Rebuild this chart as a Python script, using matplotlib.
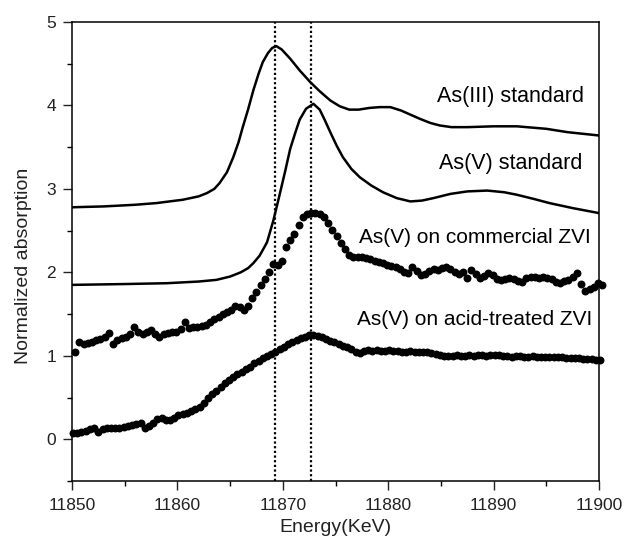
import numpy as np
import matplotlib
matplotlib.use("Agg")
import matplotlib.pyplot as plt
from matplotlib.ticker import MultipleLocator

plt.rcParams['font.family'] = ['Liberation Sans', 'DejaVu Sans']

# As(III) standard spectrum (solid line)
e_as3 = [11850, 11853, 11856, 11858, 11860.5, 11862, 11862.8, 11863.5, 11864,
         11864.7, 11865.3, 11865.8, 11866.2, 11866.7, 11867.2, 11867.7, 11868.1,
         11868.6, 11869.0, 11869.4, 11869.9, 11870.7, 11871.6, 11872.6, 11873.5,
         11874.5, 11875.4, 11876.3, 11877.2, 11878.2, 11879.2, 11880.2, 11881.2,
         11882.1, 11883.0, 11884.0, 11884.9, 11886, 11887.5, 11890, 11892.2,
         11895, 11897, 11900]
mu_as3 = [2.78, 2.79, 2.81, 2.83, 2.87, 2.91, 2.95, 3.00, 3.07,
          3.20, 3.38, 3.56, 3.74, 3.95, 4.18, 4.38, 4.52,
          4.63, 4.69, 4.71, 4.67, 4.56, 4.42, 4.28, 4.17,
          4.06, 3.99, 3.95, 3.95, 3.97, 3.98, 3.98, 3.94,
          3.89, 3.84, 3.79, 3.76, 3.74, 3.74, 3.75, 3.75,
          3.72, 3.68, 3.64]

# As(V) standard spectrum (solid line)
e_as5 = [11850, 11855, 11859, 11862, 11863.7, 11865, 11866, 11866.7, 11867.2,
         11867.8, 11868.5, 11869.1, 11869.6, 11870.2, 11870.7, 11871.2, 11871.6,
         11872.2, 11872.9, 11873.5, 11874.0, 11874.5, 11875.1, 11875.7, 11876.5,
         11877.3, 11878.4, 11879.5, 11880.8, 11882.1, 11883.2, 11884.3, 11885.9,
         11887.5, 11889.4, 11891, 11892.2, 11893.8, 11895.3, 11897.5, 11900]
mu_as5 = [1.85, 1.86, 1.87, 1.89, 1.91, 1.95, 2.00, 2.05, 2.11,
          2.20, 2.36, 2.62, 2.88, 3.20, 3.48, 3.68, 3.83,
          3.96, 4.02, 3.95, 3.82, 3.68, 3.52, 3.38, 3.24,
          3.14, 3.04, 2.96, 2.89, 2.85, 2.86, 2.89, 2.94,
          2.97, 2.98, 2.96, 2.93, 2.88, 2.83, 2.77, 2.71]

# As(V) sorbed on commercial ZVI (0.4 eV grid from 11850.3)
e_comm = np.round(11850.3 + 0.4 * np.arange(126), 1)
mu_comm = [1.05, 1.17, 1.14, 1.15, 1.17, 1.19, 1.20, 1.22, 1.27, 1.14,
           1.19, 1.21, 1.23, 1.26, 1.34, 1.28, 1.26, 1.28, 1.31, 1.26,
           1.23, 1.26, 1.27, 1.28, 1.29, 1.32, 1.41, 1.33, 1.34, 1.35,
           1.36, 1.37, 1.40, 1.44, 1.46, 1.50, 1.53, 1.55, 1.60, 1.58,
           1.55, 1.60, 1.69, 1.77, 1.85, 1.92, 2.00, 2.10, 2.09, 2.14,
           2.30, 2.39, 2.46, 2.57, 2.66, 2.70, 2.71, 2.71, 2.70, 2.66,
           2.59, 2.51, 2.43, 2.35, 2.28, 2.21, 2.19, 2.18, 2.19, 2.17,
           2.16, 2.14, 2.13, 2.11, 2.09, 2.08, 2.06, 2.04, 2.01, 1.99,
           2.06, 2.02, 1.97, 1.98, 2.02, 2.04, 2.03, 2.05, 2.07, 2.04,
           2.00, 1.98, 2.00, 1.93, 2.03, 1.98, 1.93, 1.96, 1.99, 1.97,
           1.92, 1.91, 1.92, 1.93, 1.92, 1.90, 1.89, 1.93, 1.95, 1.94,
           1.93, 1.94, 1.93, 1.92, 1.88, 1.87, 1.90, 1.91, 1.94, 1.99,
           1.86, 1.78, 1.80, 1.83, 1.87, 1.85]

# As(V) sorbed on acid-treated ZVI (0.4 eV grid from 11850.1)
e_acid = np.round(11850.1 + 0.4 * np.arange(126), 1)
mu_acid = [0.07, 0.08, 0.09, 0.10, 0.12, 0.13, 0.09, 0.12, 0.14, 0.13,
           0.14, 0.14, 0.15, 0.16, 0.17, 0.18, 0.19, 0.14, 0.16, 0.20,
           0.24, 0.25, 0.23, 0.23, 0.26, 0.29, 0.30, 0.32, 0.34, 0.36,
           0.39, 0.43, 0.49, 0.54, 0.58, 0.63, 0.67, 0.71, 0.75, 0.78,
           0.81, 0.84, 0.87, 0.91, 0.94, 0.97, 1.00, 1.02, 1.05, 1.08,
           1.11, 1.14, 1.16, 1.19, 1.21, 1.23, 1.25, 1.25, 1.24, 1.22,
           1.20, 1.18, 1.16, 1.14, 1.12, 1.10, 1.08, 1.05, 1.03, 1.06,
           1.07, 1.06, 1.07, 1.06, 1.06, 1.07, 1.06, 1.06, 1.05, 1.05,
           1.06, 1.05, 1.04, 1.04, 1.04, 1.03, 1.02, 1.01, 1.00, 1.00,
           1.00, 1.01, 1.00, 1.00, 1.01, 1.00, 1.01, 1.01, 1.00, 1.01,
           1.01, 1.01, 1.00, 1.00, 0.99, 1.00, 1.00, 0.99, 0.99, 1.00,
           0.99, 0.99, 0.98, 0.99, 0.98, 0.98, 0.98, 0.97, 0.97, 0.97,
           0.97, 0.96, 0.96, 0.96, 0.95, 0.95]

# white-line positions of As(III) and As(V)
edge_lines = [11869.3, 11872.7]

fig = plt.figure(figsize=(6.24, 5.39), dpi=100)
ax = fig.add_axes([0.1154, 0.1076, 0.8446, 0.8516])

ax.plot(e_as3, mu_as3, color='black', linewidth=1.8, solid_joinstyle='round')
ax.plot(e_as5, mu_as5, color='black', linewidth=1.8, solid_joinstyle='round')
ax.plot(e_comm, mu_comm, 'o', color='black', markersize=5.7,
        markeredgewidth=0, clip_on=False)
ax.plot(e_acid, mu_acid, 'o', color='black', markersize=5.7,
        markeredgewidth=0, clip_on=False)
for e in edge_lines:
    ax.axvline(e, color='black', linestyle=(0, (1, 1.1)), linewidth=1.6)

ax.text(11898.6, 4.11, 'As(III) standard', ha='right', va='center', fontsize=15.5)
ax.text(11898.4, 3.30, 'As(V) standard', ha='right', va='center', fontsize=15.5)
ax.text(11899.2, 2.42, 'As(V) on commercial ZVI', ha='right', va='center',
        fontsize=15)
ax.text(11899.4, 1.44, 'As(V) on acid-treated ZVI', ha='right', va='center',
        fontsize=15)

ax.set_xlim(11850, 11900)
ax.set_ylim(-0.5, 5)
ax.xaxis.set_major_locator(MultipleLocator(10))
ax.xaxis.set_minor_locator(MultipleLocator(5))
ax.yaxis.set_major_locator(MultipleLocator(1))
ax.yaxis.set_minor_locator(MultipleLocator(0.5))
ax.tick_params(which='major', direction='out', length=6.5, width=1.0,
               labelsize=12.5, colors='#222222')
ax.tick_params(axis='x', which='major', pad=6)
ax.tick_params(axis='y', which='major', pad=5)
ax.tick_params(which='minor', direction='out', length=3.6, width=1.0)
for sp in ax.spines.values():
    sp.set_linewidth(1.1)

ax.set_xlabel('Energy(KeV)', fontsize=14, color='#222222', labelpad=4)
ax.set_ylabel('Normalized absorption', fontsize=14, color='#222222')
ax.yaxis.set_label_coords(-0.076, 0.468)

fig.savefig('out.png', dpi=100)
